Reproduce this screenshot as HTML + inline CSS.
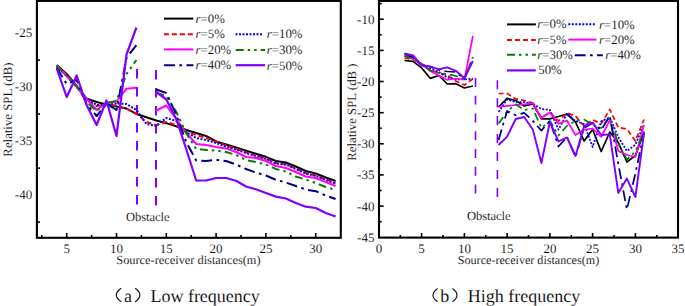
<!DOCTYPE html>
<html><head><meta charset="utf-8"><style>
html,body{margin:0;padding:0;background:#fff;}
body{width:685px;height:306px;overflow:hidden;font-family:"Liberation Serif",serif;}
svg{display:block;text-rendering:geometricPrecision;}
</style></head><body>
<svg width="685" height="306" viewBox="0 0 685 306">
<rect x="0" y="0" width="685" height="306" fill="#fff"/>
<defs><clipPath id="cl"><rect x="38" y="2" width="301.7" height="234.8"/></clipPath><clipPath id="cr"><rect x="380" y="2" width="297" height="234.3"/></clipPath></defs>
<g clip-path="url(#cl)">
<line x1="137" y1="69.0" x2="137" y2="78.4" stroke="#8000ff" stroke-width="2.0"/>
<line x1="137" y1="87.0" x2="137" y2="96.4" stroke="#8000ff" stroke-width="2.0"/>
<line x1="137" y1="105.0" x2="137" y2="114.4" stroke="#8000ff" stroke-width="2.0"/>
<line x1="137" y1="123.0" x2="137" y2="132.4" stroke="#8000ff" stroke-width="2.0"/>
<line x1="137" y1="141.0" x2="137" y2="150.4" stroke="#8000ff" stroke-width="2.0"/>
<line x1="137" y1="159.0" x2="137" y2="168.4" stroke="#8000ff" stroke-width="2.0"/>
<line x1="137" y1="177.0" x2="137" y2="186.4" stroke="#8000ff" stroke-width="2.0"/>
<line x1="137" y1="195.0" x2="137" y2="204.4" stroke="#8000ff" stroke-width="2.0"/>
<line x1="156.0" y1="70.0" x2="156.0" y2="79.4" stroke="#8000ff" stroke-width="2.0"/>
<line x1="156.0" y1="88.0" x2="156.0" y2="97.4" stroke="#8000ff" stroke-width="2.0"/>
<line x1="156.0" y1="106.0" x2="156.0" y2="115.4" stroke="#8000ff" stroke-width="2.0"/>
<line x1="156.0" y1="124.0" x2="156.0" y2="133.4" stroke="#8000ff" stroke-width="2.0"/>
<line x1="156.0" y1="142.0" x2="156.0" y2="151.4" stroke="#8000ff" stroke-width="2.0"/>
<line x1="156.0" y1="160.0" x2="156.0" y2="169.4" stroke="#8000ff" stroke-width="2.0"/>
<line x1="156.0" y1="178.0" x2="156.0" y2="187.4" stroke="#8000ff" stroke-width="2.0"/>
<line x1="156.0" y1="196.0" x2="156.0" y2="205.4" stroke="#8000ff" stroke-width="2.0"/>
<polyline points="56.7,65.0 66.7,74.0 76.7,86.0 86.6,98.5 96.6,102.0 106.5,104.5 116.5,106.5 126.5,108.5 136.4,114.0 146.4,117.2 156.3,120.5 166.3,123.1 176.3,126.4 186.2,130.0 196.2,133.0 206.1,136.0 216.1,141.5 226.1,144.5 236.0,147.5 246.0,150.6 255.9,153.7 265.9,156.8 275.9,161.0 285.8,162.5 295.8,166.5 305.7,171.0 315.7,173.5 325.7,177.5 335.6,181.0" fill="none" stroke="#000000" stroke-width="2.00" stroke-linejoin="round"/>
<polyline points="56.7,66.0 66.7,75.0 76.7,86.0 86.6,100.0 96.6,106.0 106.5,104.5 116.5,105.7 126.5,108.7 136.4,113.5 146.4,122.0 156.3,125.0 166.3,122.0 176.3,125.0 186.2,132.0 196.2,135.0 206.1,138.0 216.1,141.5 226.1,145.5 236.0,148.5 246.0,152.5 255.9,155.5 265.9,158.5 275.9,163.0 285.8,164.5 295.8,168.5 305.7,173.0 315.7,175.5 325.7,179.5 335.6,183.0" fill="none" stroke="#ff0000" stroke-width="2.00" stroke-dasharray="5 3" stroke-linejoin="round"/>
<polyline points="56.7,67.0 66.7,76.0 76.7,87.0 86.6,99.0 96.6,105.0 106.5,105.0 116.5,103.5 126.5,104.0 136.4,110.0 146.4,124.0 156.3,126.0 166.3,118.0 176.3,121.0 186.2,132.0 196.2,138.0 206.1,140.0 216.1,143.0 226.1,146.7 236.0,149.5 246.0,153.0 255.9,156.0 265.9,159.0 275.9,163.5 285.8,164.5 295.8,169.0 305.7,173.5 315.7,176.0 325.7,180.0 335.6,183.5" fill="none" stroke="#0000ff" stroke-width="2.00" stroke-dasharray="2 1.5" stroke-linejoin="round"/>
<polyline points="56.7,65.5 66.7,76.0 76.7,87.0 86.6,99.0 96.6,110.0 106.5,103.0 116.5,101.5 126.5,88.7 136.4,87.8" fill="none" stroke="#ff00ff" stroke-width="2.00" stroke-linejoin="round"/>
<polyline points="156.3,110.5 166.3,105.5 176.3,119.0 186.2,133.0 196.2,144.0 206.1,145.0 216.1,147.0 226.1,148.4 236.0,152.0 246.0,157.0 255.9,158.0 265.9,161.0 275.9,166.0 285.8,168.0 295.8,172.0 305.7,176.5 315.7,178.0 325.7,182.0 335.6,186.0" fill="none" stroke="#ff00ff" stroke-width="2.00" stroke-linejoin="round"/>
<polyline points="56.7,66.0 66.7,76.0 76.7,86.0 86.6,102.0 96.6,111.0 106.5,103.0 116.5,101.0 126.5,74.0 136.4,60.0" fill="none" stroke="#008000" stroke-width="2.00" stroke-dasharray="8 4 2.5 4 2.5 4" stroke-linejoin="round"/>
<polyline points="156.3,93.0 166.3,96.0 176.3,112.0 186.2,133.0 196.2,149.0 206.1,150.0 216.1,150.5 226.1,152.0 236.0,155.0 246.0,160.0 255.9,162.0 265.9,164.5 275.9,169.0 285.8,171.5 295.8,176.5 305.7,179.5 315.7,183.0 325.7,187.0 335.6,190.0" fill="none" stroke="#008000" stroke-width="2.00" stroke-dasharray="8 4 2.5 4 2.5 4" stroke-linejoin="round"/>
<polyline points="56.7,68.0 66.7,84.0 76.7,80.0 86.6,104.0 96.6,116.0 106.5,104.0 116.5,110.0 126.5,58.0 136.4,45.0" fill="none" stroke="#000080" stroke-width="2.00" stroke-dasharray="10.9 4.4 2.7 4.4" stroke-linejoin="round"/>
<polyline points="156.3,89.5 166.3,93.0 176.3,115.0 186.2,142.0 196.2,160.5 206.1,161.0 216.1,159.8 226.1,161.0 236.0,164.5 246.0,169.0 255.9,172.5 265.9,175.5 275.9,179.8 285.8,182.5 295.8,186.0 305.7,189.5 315.7,191.2 325.7,195.5 335.6,199.0" fill="none" stroke="#000080" stroke-width="2.00" stroke-dasharray="10.9 4.4 2.7 4.4" stroke-linejoin="round"/>
<polyline points="56.7,68.5 66.7,97.0 76.7,75.5 86.6,105.0 96.6,125.0 106.5,100.5 116.5,136.0 126.5,54.5 136.4,27.5" fill="none" stroke="#8000ff" stroke-width="2.20" stroke-linejoin="round"/>
<polyline points="156.3,92.0 166.3,99.5 176.3,119.0 186.2,149.0 196.2,180.5 206.1,180.5 216.1,178.0 226.1,178.0 236.0,180.8 246.0,186.5 255.9,189.3 265.9,193.0 275.9,196.6 285.8,198.5 295.8,203.0 305.7,206.7 315.7,208.0 325.7,213.0 335.6,216.5" fill="none" stroke="#8000ff" stroke-width="2.20" stroke-linejoin="round"/>
</g>
<g clip-path="url(#cr)">
<line x1="475.5" y1="78.1" x2="475.5" y2="86.9" stroke="#8000ff" stroke-width="1.6"/>
<line x1="475.5" y1="95.8" x2="475.5" y2="104.6" stroke="#8000ff" stroke-width="1.6"/>
<line x1="475.5" y1="113.6" x2="475.5" y2="122.4" stroke="#8000ff" stroke-width="1.6"/>
<line x1="475.5" y1="131.3" x2="475.5" y2="140.2" stroke="#8000ff" stroke-width="1.6"/>
<line x1="475.5" y1="149.1" x2="475.5" y2="157.9" stroke="#8000ff" stroke-width="1.6"/>
<line x1="475.5" y1="166.8" x2="475.5" y2="175.7" stroke="#8000ff" stroke-width="1.6"/>
<line x1="475.5" y1="184.6" x2="475.5" y2="193.4" stroke="#8000ff" stroke-width="1.6"/>
<line x1="497.4" y1="80.2" x2="497.4" y2="89.3" stroke="#8000ff" stroke-width="1.6"/>
<line x1="497.4" y1="98.2" x2="497.4" y2="107.2" stroke="#8000ff" stroke-width="1.6"/>
<line x1="497.4" y1="116.1" x2="497.4" y2="125.2" stroke="#8000ff" stroke-width="1.6"/>
<line x1="497.4" y1="134.1" x2="497.4" y2="143.2" stroke="#8000ff" stroke-width="1.6"/>
<line x1="497.4" y1="152.0" x2="497.4" y2="161.1" stroke="#8000ff" stroke-width="1.6"/>
<line x1="497.4" y1="169.9" x2="497.4" y2="179.0" stroke="#8000ff" stroke-width="1.6"/>
<line x1="497.4" y1="187.9" x2="497.4" y2="197.0" stroke="#8000ff" stroke-width="1.6"/>
<polyline points="404.5,60.5 413.1,61.4 421.6,67.9 430.2,78.3 438.8,75.5 447.3,84.0 455.8,83.7 464.4,88.0 472.9,86.0" fill="none" stroke="#000000" stroke-width="1.74" stroke-linejoin="round"/>
<polyline points="498.6,107.0 507.1,98.4 515.7,100.5 524.2,105.9 532.8,103.8 541.4,118.8 549.9,118.8 558.5,116.5 567.0,114.0 575.5,122.0 584.1,141.0 592.6,129.5 601.2,151.5 609.8,132.0 618.3,142.6 626.9,162.0 635.4,155.5 644.0,132.0" fill="none" stroke="#000000" stroke-width="1.74" stroke-linejoin="round"/>
<polyline points="404.5,58.0 413.1,59.5 421.6,65.0 430.2,70.0 438.8,73.0 447.3,75.0 455.8,81.0 464.4,85.0 472.9,78.8" fill="none" stroke="#ff0000" stroke-width="1.74" stroke-dasharray="5 3" stroke-linejoin="round"/>
<polyline points="498.6,93.5 507.1,93.5 515.7,98.9 524.2,100.5 532.8,103.0 541.4,117.5 549.9,112.5 558.5,121.0 567.0,113.0 575.5,116.0 584.1,126.0 592.6,119.8 601.2,123.7 609.8,109.5 618.3,127.5 626.9,129.0 635.4,141.0 644.0,119.5" fill="none" stroke="#ff0000" stroke-width="1.74" stroke-dasharray="5 3" stroke-linejoin="round"/>
<polyline points="404.5,56.0 413.1,57.4 421.6,64.0 430.2,68.0 438.8,72.0 447.3,77.5 455.8,79.5 464.4,79.5 472.9,78.5" fill="none" stroke="#0000ff" stroke-width="1.74" stroke-dasharray="2 1.5" stroke-linejoin="round"/>
<polyline points="498.6,112.0 507.1,99.4 515.7,102.2 524.2,102.2 532.8,103.5 541.4,109.1 549.9,109.9 558.5,129.7 567.0,113.5 575.5,121.0 584.1,124.0 592.6,147.0 601.2,121.3 609.8,117.4 618.3,137.2 626.9,151.0 635.4,144.7 644.0,124.5" fill="none" stroke="#0000ff" stroke-width="1.74" stroke-dasharray="2 1.5" stroke-linejoin="round"/>
<polyline points="404.5,56.0 413.1,58.6 421.6,64.0 430.2,71.0 438.8,75.5 447.3,80.0 455.8,78.5 464.4,79.5 472.9,36.0" fill="none" stroke="#ff00ff" stroke-width="1.74" stroke-linejoin="round"/>
<polyline points="498.6,107.0 507.1,105.9 515.7,105.0 524.2,104.3 532.8,103.2 541.4,118.0 549.9,112.5 558.5,123.8 567.0,120.5 575.5,135.0 584.1,129.6 592.6,128.5 601.2,137.0 609.8,120.2 618.3,151.0 626.9,155.0 635.4,157.0 644.0,125.0" fill="none" stroke="#ff00ff" stroke-width="1.74" stroke-linejoin="round"/>
<polyline points="404.5,56.0 413.1,59.0 421.6,64.0 430.2,70.5 438.8,73.0 447.3,74.0 455.8,76.0 464.4,79.0 472.9,57.0" fill="none" stroke="#008000" stroke-width="1.74" stroke-dasharray="8 4 2.5 4 2.5 4" stroke-linejoin="round"/>
<polyline points="498.6,123.5 507.1,111.5 515.7,104.3 524.2,110.0 532.8,108.5 541.4,128.0 549.9,121.0 558.5,135.5 567.0,125.7 575.5,121.0 584.1,119.5 592.6,125.0 601.2,128.0 609.8,117.0 618.3,143.8 626.9,159.5 635.4,151.5 644.0,131.5" fill="none" stroke="#008000" stroke-width="1.74" stroke-dasharray="8 4 2.5 4 2.5 4" stroke-linejoin="round"/>
<polyline points="404.5,54.0 413.1,57.0 421.6,65.5 430.2,66.5 438.8,70.0 447.3,71.5 455.8,72.0 464.4,79.0 472.9,59.3" fill="none" stroke="#000080" stroke-width="1.74" stroke-dasharray="10.9 4.4 2.7 4.4" stroke-linejoin="round"/>
<polyline points="498.6,140.0 507.1,111.0 515.7,115.2 524.2,112.8 532.8,120.9 541.4,130.6 549.9,120.8 558.5,146.5 567.0,137.0 575.5,157.0 584.1,128.0 592.6,123.0 601.2,130.0 609.8,116.0 618.3,164.0 626.9,209.5 635.4,173.4 644.0,133.0" fill="none" stroke="#000080" stroke-width="1.74" stroke-dasharray="10.9 4.4 2.7 4.4" stroke-linejoin="round"/>
<polyline points="404.5,53.5 413.1,55.5 421.6,65.3 430.2,66.6 438.8,69.2 447.3,67.4 455.8,70.8 464.4,78.1 472.9,61.0" fill="none" stroke="#8000ff" stroke-width="1.91" stroke-linejoin="round"/>
<polyline points="498.6,145.0 507.1,136.6 515.7,119.0 524.2,117.0 532.8,129.5 541.4,163.0 549.9,121.8 558.5,141.4 567.0,137.5 575.5,156.0 584.1,126.0 592.6,122.6 601.2,135.0 609.8,134.4 618.3,193.0 626.9,178.6 635.4,197.0 644.0,133.0" fill="none" stroke="#8000ff" stroke-width="1.91" stroke-linejoin="round"/>
</g>
<rect x="36.9" y="0.9" width="303.9" height="236.9" fill="none" stroke="#000" stroke-width="2.1"/>
<rect x="379.0" y="0.9" width="299.0" height="236.7" fill="none" stroke="#000" stroke-width="2.1"/>
<line x1="66.7" y1="237.5" x2="66.7" y2="233" stroke="#000" stroke-width="1.6"/>
<line x1="116.5" y1="237.5" x2="116.5" y2="233" stroke="#000" stroke-width="1.6"/>
<line x1="166.3" y1="237.5" x2="166.3" y2="233" stroke="#000" stroke-width="1.6"/>
<line x1="216.1" y1="237.5" x2="216.1" y2="233" stroke="#000" stroke-width="1.6"/>
<line x1="265.9" y1="237.5" x2="265.9" y2="233" stroke="#000" stroke-width="1.6"/>
<line x1="315.7" y1="237.5" x2="315.7" y2="233" stroke="#000" stroke-width="1.6"/>
<line x1="41.8" y1="237.5" x2="41.8" y2="235" stroke="#000" stroke-width="1.6"/>
<line x1="91.6" y1="237.5" x2="91.6" y2="235" stroke="#000" stroke-width="1.6"/>
<line x1="141.4" y1="237.5" x2="141.4" y2="235" stroke="#000" stroke-width="1.6"/>
<line x1="191.2" y1="237.5" x2="191.2" y2="235" stroke="#000" stroke-width="1.6"/>
<line x1="241.0" y1="237.5" x2="241.0" y2="235" stroke="#000" stroke-width="1.6"/>
<line x1="290.8" y1="237.5" x2="290.8" y2="235" stroke="#000" stroke-width="1.6"/>
<line x1="37" y1="60.1" x2="40" y2="60.1" stroke="#000" stroke-width="1.6"/>
<line x1="37" y1="114.1" x2="40" y2="114.1" stroke="#000" stroke-width="1.6"/>
<line x1="37" y1="168.1" x2="40" y2="168.1" stroke="#000" stroke-width="1.6"/>
<line x1="37" y1="222.1" x2="40" y2="222.1" stroke="#000" stroke-width="1.6"/>
<line x1="421.6" y1="237.5" x2="421.6" y2="233" stroke="#000" stroke-width="1.6"/>
<line x1="464.4" y1="237.5" x2="464.4" y2="233" stroke="#000" stroke-width="1.6"/>
<line x1="507.1" y1="237.5" x2="507.1" y2="233" stroke="#000" stroke-width="1.6"/>
<line x1="549.9" y1="237.5" x2="549.9" y2="233" stroke="#000" stroke-width="1.6"/>
<line x1="592.6" y1="237.5" x2="592.6" y2="233" stroke="#000" stroke-width="1.6"/>
<line x1="635.4" y1="237.5" x2="635.4" y2="233" stroke="#000" stroke-width="1.6"/>
<line x1="400.3" y1="237.5" x2="400.3" y2="235" stroke="#000" stroke-width="1.6"/>
<line x1="443.0" y1="237.5" x2="443.0" y2="235" stroke="#000" stroke-width="1.6"/>
<line x1="485.8" y1="237.5" x2="485.8" y2="235" stroke="#000" stroke-width="1.6"/>
<line x1="528.5" y1="237.5" x2="528.5" y2="235" stroke="#000" stroke-width="1.6"/>
<line x1="571.3" y1="237.5" x2="571.3" y2="235" stroke="#000" stroke-width="1.6"/>
<line x1="614.0" y1="237.5" x2="614.0" y2="235" stroke="#000" stroke-width="1.6"/>
<line x1="656.8" y1="237.5" x2="656.8" y2="235" stroke="#000" stroke-width="1.6"/>
<line x1="379" y1="19.2" x2="383.7" y2="19.2" stroke="#000" stroke-width="1.6"/>
<line x1="379" y1="50.4" x2="383.7" y2="50.4" stroke="#000" stroke-width="1.6"/>
<line x1="379" y1="81.5" x2="383.7" y2="81.5" stroke="#000" stroke-width="1.6"/>
<line x1="379" y1="112.7" x2="383.7" y2="112.7" stroke="#000" stroke-width="1.6"/>
<line x1="379" y1="143.8" x2="383.7" y2="143.8" stroke="#000" stroke-width="1.6"/>
<line x1="379" y1="174.9" x2="383.7" y2="174.9" stroke="#000" stroke-width="1.6"/>
<line x1="379" y1="206.1" x2="383.7" y2="206.1" stroke="#000" stroke-width="1.6"/>
<line x1="379" y1="3.6" x2="381.7" y2="3.6" stroke="#000" stroke-width="1.6"/>
<line x1="379" y1="34.8" x2="381.7" y2="34.8" stroke="#000" stroke-width="1.6"/>
<line x1="379" y1="65.9" x2="381.7" y2="65.9" stroke="#000" stroke-width="1.6"/>
<line x1="379" y1="97.1" x2="381.7" y2="97.1" stroke="#000" stroke-width="1.6"/>
<line x1="379" y1="128.2" x2="381.7" y2="128.2" stroke="#000" stroke-width="1.6"/>
<line x1="379" y1="159.4" x2="381.7" y2="159.4" stroke="#000" stroke-width="1.6"/>
<line x1="379" y1="190.5" x2="381.7" y2="190.5" stroke="#000" stroke-width="1.6"/>
<line x1="379" y1="221.7" x2="381.7" y2="221.7" stroke="#000" stroke-width="1.6"/>
<line x1="164.0" y1="18.6" x2="193.3" y2="18.6" stroke="#000000" stroke-width="2"/>
<line x1="163.9" y1="34.25" x2="193.3" y2="34.25" stroke="#ff0000" stroke-width="2" stroke-dasharray="5 3"/>
<line x1="235.5" y1="34.25" x2="263" y2="34.25" stroke="#0000ff" stroke-width="2" stroke-dasharray="2 1.5"/>
<line x1="164.0" y1="49.4" x2="193.3" y2="49.4" stroke="#ff00ff" stroke-width="2"/>
<line x1="235.7" y1="49.9" x2="265.1" y2="49.9" stroke="#008000" stroke-width="2" stroke-dasharray="8 4 2.5 4 2.5 4"/>
<line x1="164.1" y1="65.25" x2="193.4" y2="65.25" stroke="#000080" stroke-width="2" stroke-dasharray="10.9 4.4 2.7 4.4"/>
<line x1="235.7" y1="65.2" x2="265.1" y2="65.2" stroke="#8000ff" stroke-width="2.2"/>
<line x1="507.0" y1="24.4" x2="535.9" y2="24.4" stroke="#000000" stroke-width="2"/>
<line x1="568.3" y1="24.3" x2="595.5" y2="24.3" stroke="#0000ff" stroke-width="2" stroke-dasharray="2 1.5"/>
<line x1="507.0" y1="39.9" x2="535.8" y2="39.9" stroke="#ff0000" stroke-width="2" stroke-dasharray="5 3"/>
<line x1="568.3" y1="39.6" x2="596.4" y2="39.6" stroke="#ff00ff" stroke-width="2"/>
<line x1="507.0" y1="54.7" x2="535.8" y2="54.7" stroke="#008000" stroke-width="2" stroke-dasharray="8 4 2.5 4 2.5 4"/>
<line x1="574.7" y1="55.2" x2="602.8" y2="55.2" stroke="#000080" stroke-width="2" stroke-dasharray="10.9 4.4 2.7 4.4"/>
<line x1="507.0" y1="70.4" x2="535.8" y2="70.4" stroke="#8000ff" stroke-width="2.2"/>
<path d="M121.2,288.3 Q111.40,295.05 121.2,301.8" fill="none" stroke="#111" stroke-width="1.15"/>
<path d="M135.2,288.3 Q144.60,295.05 135.2,301.8" fill="none" stroke="#111" stroke-width="1.15"/>
<path d="M437.6,288.5 Q428.40,295.15 437.6,301.8" fill="none" stroke="#111" stroke-width="1.15"/>
<path d="M452.4,288.5 Q461.60,295.15 452.4,301.8" fill="none" stroke="#111" stroke-width="1.15"/>
<g font-family="'Liberation Serif', serif" fill="#000" stroke="#fff" stroke-width="0.12">
<text x="66.7" y="253.1" text-anchor="middle" font-size="13">5</text>
<text x="116.5" y="253.1" text-anchor="middle" font-size="13">10</text>
<text x="166.3" y="253.1" text-anchor="middle" font-size="13">15</text>
<text x="216.1" y="253.1" text-anchor="middle" font-size="13">20</text>
<text x="265.9" y="253.1" text-anchor="middle" font-size="13">25</text>
<text x="315.7" y="253.1" text-anchor="middle" font-size="13">30</text>
<text x="32.2" y="37.0" text-anchor="end" font-size="13">-25</text>
<text x="32.2" y="91.0" text-anchor="end" font-size="13">-30</text>
<text x="32.2" y="145.0" text-anchor="end" font-size="13">-35</text>
<text x="32.2" y="199.0" text-anchor="end" font-size="13">-40</text>
<text x="378.9" y="253.1" text-anchor="middle" font-size="13">0</text>
<text x="421.6" y="253.1" text-anchor="middle" font-size="13">5</text>
<text x="464.4" y="253.1" text-anchor="middle" font-size="13">10</text>
<text x="507.1" y="253.1" text-anchor="middle" font-size="13">15</text>
<text x="549.9" y="253.1" text-anchor="middle" font-size="13">20</text>
<text x="592.6" y="253.1" text-anchor="middle" font-size="13">25</text>
<text x="635.4" y="253.1" text-anchor="middle" font-size="13">30</text>
<text x="678.1" y="253.1" text-anchor="middle" font-size="13">35</text>
<text x="374.4" y="23.7" text-anchor="end" font-size="13">-10</text>
<text x="374.4" y="54.9" text-anchor="end" font-size="13">-15</text>
<text x="374.4" y="86.0" text-anchor="end" font-size="13">-20</text>
<text x="374.4" y="117.2" text-anchor="end" font-size="13">-25</text>
<text x="374.4" y="148.3" text-anchor="end" font-size="13">-30</text>
<text x="374.4" y="179.4" text-anchor="end" font-size="13">-35</text>
<text x="374.4" y="210.6" text-anchor="end" font-size="13">-40</text>
<text x="374.4" y="241.8" text-anchor="end" font-size="13">-45</text>
<text x="116.3" y="264.3" font-size="12.35">Source-receiver distances(m)</text>
<text x="457.8" y="264" font-size="12.1">Source-receiver distances(m)</text>
<text transform="translate(12.3,109.6) rotate(-90)" text-anchor="middle" font-size="12.8">Relative SPL (dB)</text>
<text transform="translate(355.9,112.1) rotate(-90)" text-anchor="middle" font-size="12.8">Relative SPL (dB )</text>
<text x="125.9" y="221.1" font-size="12.5">Obstacle</text>
<text x="466.9" y="219.5" font-size="12.5">Obstacle</text>
<text x="195.6" y="22.8" font-size="12.8"><tspan font-style="italic">r</tspan>=0%</text>
<text x="195.6" y="38.4" font-size="12.8"><tspan font-style="italic">r</tspan>=5%</text>
<text x="266.8" y="38.2" font-size="12.8"><tspan font-style="italic">r</tspan>=10%</text>
<text x="195.6" y="53.7" font-size="12.8"><tspan font-style="italic">r</tspan>=20%</text>
<text x="266.8" y="54.3" font-size="12.8"><tspan font-style="italic">r</tspan>=30%</text>
<text x="195.6" y="69.4" font-size="12.8"><tspan font-style="italic">r</tspan>=40%</text>
<text x="266.8" y="69.5" font-size="12.8"><tspan font-style="italic">r</tspan>=50%</text>
<text x="537.3" y="28.1" font-size="12.8"><tspan font-style="italic">r</tspan>=0%</text>
<text x="599.1" y="28.6" font-size="12.8"><tspan font-style="italic">r</tspan>=10%</text>
<text x="537.3" y="44.2" font-size="12.8"><tspan font-style="italic">r</tspan>=5%</text>
<text x="599.1" y="44.0" font-size="12.8"><tspan font-style="italic">r</tspan>=20%</text>
<text x="537.3" y="59.4" font-size="12.8"><tspan font-style="italic">r</tspan>=30%</text>
<text x="605.2" y="58.9" font-size="12.8"><tspan font-style="italic">r</tspan>=40%</text>
<text x="538.3" y="74.3" font-size="12.8">50%</text>
<text x="124.0" y="302" font-size="18">a</text>
<text x="150.4" y="302" font-size="18">Low frequency</text>
<text x="440.3" y="302" font-size="18">b</text>
<text x="467.8" y="302" font-size="18">High frequency</text>
</g>
</svg>
</body></html>
